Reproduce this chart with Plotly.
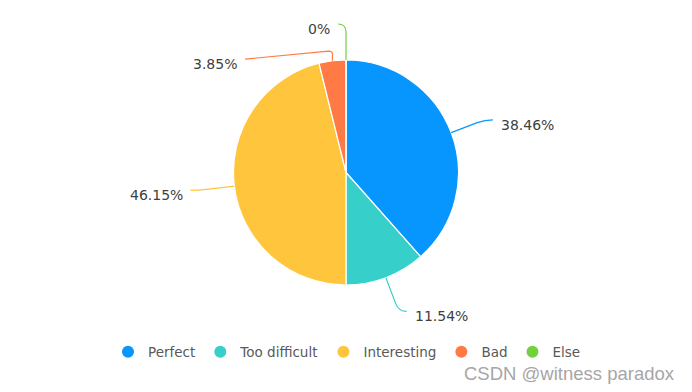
import math
import plotly.graph_objects as go

# ---- data ----
categories = ["Perfect", "Too difficult", "Interesting", "Bad", "Else"]
counts = [10, 3, 12, 1, 0]
colors = ["#0796FE", "#36CFC9", "#FFC53D", "#FF7A45", "#73D13D"]

# the page body has an 8px margin: the figure is offset by (8, 8)
OFF = 8
W, H = 692 - OFF, 392 - OFF
CX, CY, R = 346.0, 172.5, 112.5  # pie centre / radius in window pixels


def px(x):
    return (x - OFF) / W


def py(y):
    return 1 - (y - OFF) / H


fig = go.Figure()
fig.add_trace(go.Pie(
    labels=categories, values=counts, sort=False, direction="clockwise",
    rotation=0, textinfo="none", showlegend=False, hoverinfo="label+percent",
    marker=dict(colors=colors, line=dict(color="white", width=1.2)),
    domain=dict(x=[px(CX - R), px(CX + R)], y=[py(CY + R), py(CY - R)]),
))

# legend entries (circle symbols)
for c, col in zip(categories, colors):
    fig.add_trace(go.Scatter(x=[None], y=[None], mode="markers", name=c,
                             marker=dict(color=col, size=12, symbol="circle")))

# ---- outside labels with leader lines ----
total = sum(counts)
# manual nudge (pixels) of label end for collision avoidance
nudge = {"Bad": (-75, 34)}
shapes, annotations = [], []
cum = 0
for c, v, col in zip(categories, counts, colors):
    mid = (cum + v / 2) / total * 2 * math.pi
    cum += v
    dx, dy = math.sin(mid), -math.cos(mid)
    sign = 1 if dx > 1e-6 else -1
    E = (CX + R * dx, CY + R * dy)
    P1 = (CX + (R + 28) * dx, CY + (R + 28) * dy)
    Q = (CX + (R + 36) * dx, CY + (R + 36) * dy)
    end = (Q[0] + sign * 8, Q[1])
    if c in nudge:
        ndx, ndy = nudge[c]
        end = (end[0] + ndx, end[1] + ndy)
        cy_ = end[1] - 8
        path = (f"M {px(E[0])},{py(E[1])} L {px(E[0])},{py(cy_ + 3)} "
                f"Q {px(E[0])},{py(cy_)} {px(E[0] - 4)},{py(cy_)} "
                f"L {px(end[0])},{py(end[1])}")
    else:
        path = (f"M {px(E[0])},{py(E[1])} L {px(P1[0])},{py(P1[1])} "
                f"Q {px(Q[0])},{py(Q[1])} {px(end[0])},{py(end[1])}")
    shapes.append(dict(type="path", xref="paper", yref="paper", path=path,
                       line=dict(color=col, width=1.2)))
    pct = f"{v / total * 100:.2f}%" if v else "0%"
    annotations.append(dict(
        x=px(end[0] + sign * 6), y=py(end[1] + 5), xref="paper", yref="paper",
        text=pct, showarrow=False, xanchor="left" if sign > 0 else "right",
        yanchor="middle", font=dict(family="DejaVu Sans", size=14, color="#404040")))

annotations.append(dict(
    x=px(677), y=py(373), xref="paper", yref="paper", text="CSDN @witness paradox",
    showarrow=False, xanchor="right", yanchor="middle",
    font=dict(family="Liberation Sans", size=18.5, color="#a6a6a6")))

fig.update_layout(
    width=W, height=H, margin=dict(l=0, r=0, t=0, b=0),
    paper_bgcolor="white", plot_bgcolor="white",
    xaxis=dict(visible=False), yaxis=dict(visible=False),
    shapes=shapes, annotations=annotations,
    legend=dict(orientation="h", x=px(347), xanchor="center", y=py(352), yanchor="middle",
                font=dict(family="DejaVu Sans", size=13.5, color="#595959"),
                itemsizing="constant", bgcolor="rgba(0,0,0,0)"),
)

fig.write_html("out.html")
